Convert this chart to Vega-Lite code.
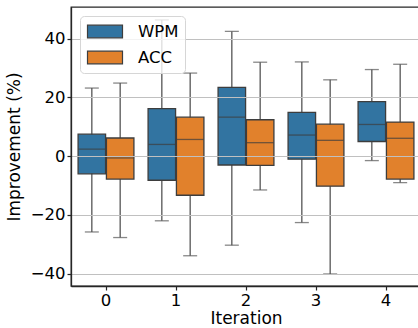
{
  "$schema": "https://vega.github.io/schema/vega-lite/v6.json",
  "width": 350,
  "height": 279,
  "padding": {"left": 71, "top": 7, "right": 0, "bottom": 42},
  "autosize": {"type": "none"},
  "background": "white",
  "config": {
    "font": "DejaVu Sans",
    "view": {"stroke": "#262626", "strokeWidth": 1.3},
    "axis": {"labelFont": "DejaVu Sans", "titleFont": "DejaVu Sans", "labelFontSize": 16.5, "titleFontSize": 17, "labelColor": "#000", "titleColor": "#000", "titleFontWeight": "normal", "tickColor": "#262626", "domainColor": "#262626", "domainWidth": 1.3, "tickWidth": 1.2, "tickSize": 4}
  },
  "data": {"values": [
    {"it": "0", "g": "WPM", "lo": -25.8, "q1": -6.0, "med": 2.4, "q3": 7.5, "hi": 23.2},
    {"it": "0", "g": "ACC", "lo": -27.7, "q1": -7.8, "med": -0.6, "q3": 6.2, "hi": 24.9},
    {"it": "1", "g": "WPM", "lo": -22.0, "q1": -8.2, "med": 4.0, "q3": 16.2, "hi": 46.4},
    {"it": "1", "g": "ACC", "lo": -33.9, "q1": -13.3, "med": 5.7, "q3": 13.3, "hi": 28.3},
    {"it": "2", "g": "WPM", "lo": -30.3, "q1": -3.0, "med": 13.3, "q3": 23.4, "hi": 42.5},
    {"it": "2", "g": "ACC", "lo": -11.5, "q1": -3.1, "med": 4.6, "q3": 12.4, "hi": 32.0},
    {"it": "3", "g": "WPM", "lo": -22.6, "q1": -1.0, "med": 7.2, "q3": 14.9, "hi": 32.1},
    {"it": "3", "g": "ACC", "lo": -40.1, "q1": -10.2, "med": 5.4, "q3": 10.9, "hi": 26.0},
    {"it": "4", "g": "WPM", "lo": -1.5, "q1": 5.0, "med": 10.8, "q3": 18.6, "hi": 29.5},
    {"it": "4", "g": "ACC", "lo": -9.0, "q1": -7.8, "med": 6.1, "q3": 11.6, "hi": 31.3}
  ]},
  "encoding": {
    "x": {"field": "it", "type": "nominal", "title": "Iteration", "scale": {"paddingInner": 0, "paddingOuter": 0}, "axis": {"labelAngle": 0, "labelPadding": 2, "titlePadding": 2, "zindex": 1}},
    "xOffset": {"field": "g", "type": "nominal", "sort": ["WPM", "ACC"], "scale": {"paddingOuter": 0.25, "paddingInner": 0.03}}
  },
  "layer": [
    {
      "mark": {"type": "rule", "color": "#555555", "strokeWidth": 1.3},
      "encoding": {
        "y": {"field": "lo", "type": "quantitative"},
        "y2": {"field": "hi"}
      }
    },
    {
      "mark": {"type": "tick", "color": "#555555", "thickness": 1.3, "size": 14},
      "encoding": {"y": {"field": "lo", "type": "quantitative"}}
    },
    {
      "mark": {"type": "tick", "color": "#555555", "thickness": 1.3, "size": 14},
      "encoding": {"y": {"field": "hi", "type": "quantitative"}}
    },
    {
      "mark": {"type": "bar", "stroke": "#3d3d3d", "strokeWidth": 1.3},
      "encoding": {
        "y": {"field": "q1", "type": "quantitative", "title": "Improvement (%)",
          "scale": {"domain": [-44.2, 50.8], "nice": false, "zero": false},
          "axis": {"values": [-40, -20, 0, 20, 40], "grid": true, "gridColor": "#c0c0c0", "gridWidth": 1.2, "zindex": 1, "labelPadding": 2, "titlePadding": 7}},
        "y2": {"field": "q3"},
        "color": {"field": "g", "type": "nominal", "sort": ["WPM", "ACC"],
          "scale": {"domain": ["WPM", "ACC"], "range": ["#3274a1", "#e1812c"]},
          "legend": {"title": null, "orient": "none", "legendX": 9, "legendY": 9, "padding": 6.5, "strokeColor": "#d6d6d6", "fillColor": "rgba(255,255,255,0.8)", "cornerRadius": 4, "labelFontSize": 16.5, "labelFont": "DejaVu Sans", "labelColor": "#000", "symbolType": "M-1,-0.79H3.375V0.79H-1Z", "symbolSize": 256, "symbolStrokeColor": "#3d3d3d", "symbolStrokeWidth": 1.2, "symbolOpacity": 1, "rowPadding": 8, "labelOffset": 33.4, "zindex": 2}}
      }
    },
    {
      "mark": {"type": "tick", "color": "#3d3d3d", "thickness": 1.3, "size": 27},
      "encoding": {"y": {"field": "med", "type": "quantitative"}}
    }
  ]
}
